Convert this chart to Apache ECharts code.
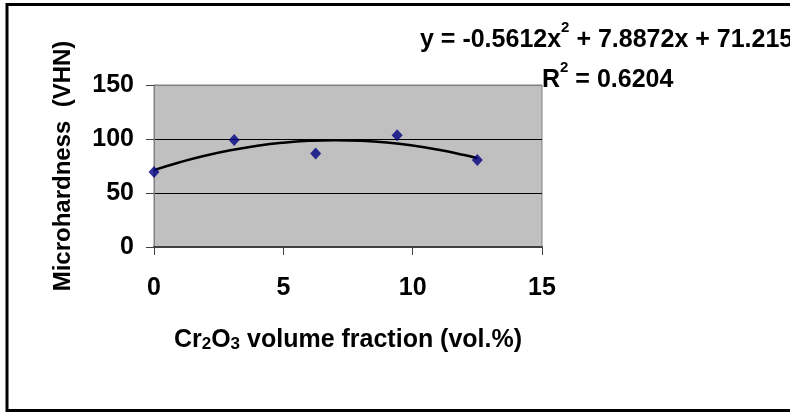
<!DOCTYPE html>
<html>
<head>
<meta charset="utf-8">
<script src="https://cdn.jsdelivr.net/npm/echarts@6/dist/echarts.min.js"></script>
<style>
  html, body { margin: 0; padding: 0; background: #fff; }
  #chart { width: 790px; height: 413px; }
</style>
</head>
<body>
<div id="chart"></div>
<script>
// measured points
const volFraction = [0, 3.1, 6.25, 9.4, 12.5];
const hardness = [69.5, 99, 86.5, 103.5, 80.5];

// polynomial trendline
const trendX = [0, 1, 2, 3, 4, 5, 6, 7, 8, 9, 10, 11, 12, 12.5];
const trendY = [71.2, 78.5, 84.7, 89.8, 93.8, 96.6, 98.3, 98.9, 98.4, 96.8, 94.0, 90.1, 85.1, 82.2];

const xTicks = [0, 5, 10, 15];
const yTicks = [0, 50, 100, 150];

const font = '"Liberation Sans", Arial, sans-serif';

const chart = echarts.init(document.getElementById('chart'));

chart.setOption({
  animation: false,
  textStyle: { fontFamily: font },
  title: {
    left: 420,
    top: 20,
    padding: 0,
    text: 'y = -0.5612x{sup|2} + 7.8872x + 71.215\n{pad|}R{sup|2} = 0.6204',
    textStyle: {
      fontFamily: font,
      fontSize: 25,
      fontWeight: 'bold',
      color: '#000',
      lineHeight: 40,
      rich: {
        sup: { fontSize: 15, fontWeight: 'bold', verticalAlign: 'top', lineHeight: 30, fontFamily: font },
        pad: { width: 122 }
      }
    }
  },
  graphic: [{
    type: 'rect',
    silent: true,
    shape: { x: 7, y: 4.5, width: 800, height: 406 },
    style: { fill: null, stroke: '#000', lineWidth: 3 }
  }],
  grid: {
    left: 154,
    right: 248,
    top: 85,
    bottom: 166,
    show: true,
    backgroundColor: '#c0c0c0',
    borderColor: '#808080',
    borderWidth: 1
  },
  xAxis: {
    type: 'value',
    min: xTicks[0],
    max: xTicks[xTicks.length - 1],
    interval: 5,
    name: 'Cr{sub|2}O{sub|3} volume fraction (vol.%)',
    nameLocation: 'middle',
    nameGap: 81,
    nameTextStyle: {
      fontFamily: font,
      fontSize: 25,
      fontWeight: 'bold',
      color: '#000',
      rich: {
        sub: { fontSize: 17, fontWeight: 'bold', verticalAlign: 'bottom', lineHeight: 16, fontFamily: font }
      }
    },
    axisLine: { show: true, onZero: false, lineStyle: { color: '#404040', width: 2 } },
    axisTick: { show: true, length: 8, lineStyle: { color: '#404040', width: 1 } },
    axisLabel: { margin: 29, fontSize: 25, fontWeight: 'bold', color: '#000', fontFamily: font },
    splitLine: { show: false }
  },
  yAxis: {
    type: 'value',
    min: yTicks[0],
    max: yTicks[yTicks.length - 1],
    interval: 50,
    name: 'Microhardness  (VHN)',
    nameLocation: 'middle',
    nameGap: 79,
    nameTextStyle: { fontFamily: font, fontSize: 24, fontWeight: 'bold', color: '#000' },
    axisLine: { show: true, lineStyle: { color: '#808080', width: 1 } },
    axisTick: { show: true, length: 8, lineStyle: { color: '#404040', width: 1 } },
    axisLabel: { margin: 20, fontSize: 25, fontWeight: 'bold', color: '#000', fontFamily: font },
    splitLine: { show: true, lineStyle: { color: ['#808080', '#000', '#000', '#808080'], width: 1 } }
  },
  series: [
    {
      name: 'trend',
      type: 'line',
      data: trendX.map((x, i) => [x, trendY[i]]),
      smooth: true,
      symbol: 'none',
      lineStyle: { color: '#000', width: 2.5 },
      z: 2
    },
    {
      name: 'Microhardness',
      type: 'scatter',
      data: volFraction.map((x, i) => [x, hardness[i]]),
      symbol: 'diamond',
      symbolSize: [11, 12],
      itemStyle: { color: '#000080' },
      z: 3
    }
  ]
});
</script>
</body>
</html>
